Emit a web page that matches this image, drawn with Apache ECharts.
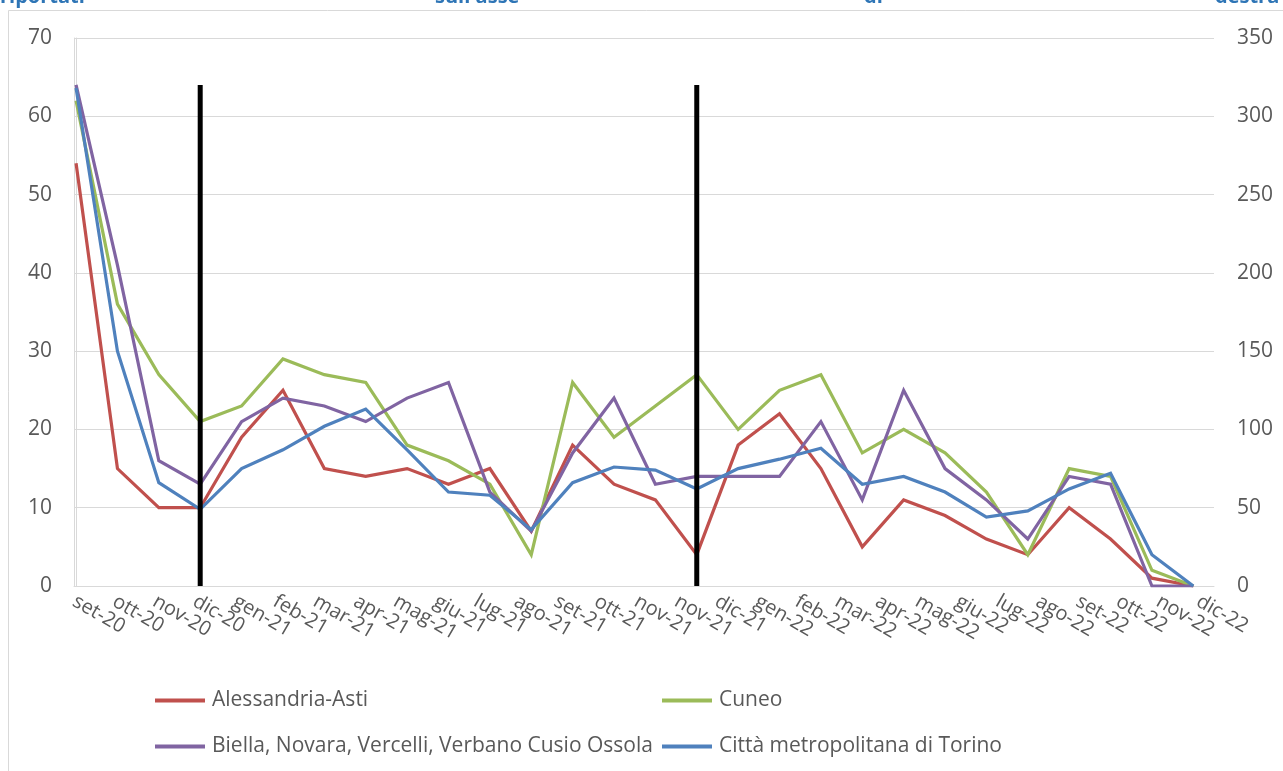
<!DOCTYPE html>
<html lang="it">
<head>
<meta charset="utf-8">
<title>Andamento per territorio</title>
<script src="https://cdn.jsdelivr.net/npm/echarts@6.0.0/dist/echarts.min.js"></script>
<style>
  html, body { margin: 0; padding: 0; background: #ffffff; }
  #chart { width: 1283px; height: 771px; }
</style>
</head>
<body>
<div id="chart"></div>
<script>
// Mesi dei dati (un punto per mese)
const mesi = ['set-20', 'ott-20', 'nov-20', 'dic-20', 'gen-21', 'feb-21', 'mar-21', 'apr-21',
  'mag-21', 'giu-21', 'lug-21', 'ago-21', 'set-21', 'ott-21', 'nov-21', 'dic-21', 'gen-22',
  'feb-22', 'mar-22', 'apr-22', 'mag-22', 'giu-22', 'lug-22', 'ago-22', 'set-22', 'ott-22',
  'nov-22', 'dic-22'];

// Etichette dell'asse orizzontale
const etichette = ['set-20', 'ott-20', 'nov-20', 'dic-20', 'gen-21', 'feb-21', 'mar-21', 'apr-21',
  'mag-21', 'giu-21', 'lug-21', 'ago-21', 'set-21', 'ott-21', 'nov-21', 'nov-21', 'dic-21',
  'gen-22', 'feb-22', 'mar-22', 'apr-22', 'mag-22', 'giu-22', 'lug-22', 'ago-22', 'set-22',
  'ott-22', 'nov-22', 'dic-22'];

// Serie sull'asse di sinistra
const alessandriaAsti = [54, 15, 10, 10, 19, 25, 15, 14, 15, 13, 15, 7, 18, 13, 11, 4, 18, 22, 15, 5, 11, 9, 6, 4, 10, 6, 1, 0];
const cuneo = [62, 36, 27, 21, 23, 29, 27, 26, 18, 16, 13, 4, 26, 19, 23, 27, 20, 25, 27, 17, 20, 17, 12, 4, 15, 14, 2, 0];
const biellaNovaraVercelliVco = [64, 41, 16, 13, 21, 24, 23, 21, 24, 26, 12, 7, 17, 24, 13, 14, 14, 14, 21, 11, 25, 15, 11, 6, 14, 13, 0, 0];

// Serie sull'asse di destra
const torino = [318, 150, 66, 49, 75, 87, 102, 113, 87, 60, 58, 36, 66, 76, 74, 62, 75, 81, 88, 65, 70, 60, 44, 48, 62, 72, 20, 0];

// Tacche degli assi verticali
const tickSinistra = [0, 10, 20, 30, 40, 50, 60, 70];
const tickDestra = [0, 50, 100, 150, 200, 250, 300, 350];

// Mesi di cesura segnati con una barra nera
const cesure = ['dic-20', 'dic-21'];
const altezzaCesura = 64;

const nomi = {
  aa: 'Alessandria-Asti',
  cn: 'Cuneo',
  bn: 'Biella, Novara, Vercelli, Verbano Cusio Ossola',
  to: 'Città metropolitana di Torino'
};

const FONT = '"Open Sans", "DejaVu Sans", sans-serif';
const GRIGIO = '#d9d9d9';
const TESTO = '#595959';
const BLU_TITOLO = '#2e75b6';

const punti = arr => arr.map((v, i) => [i, v]);

function serieLinea(nome, valori, colore, asseY) {
  return {
    name: nome,
    type: 'line',
    xAxisIndex: 0,
    yAxisIndex: asseY,
    data: punti(valori),
    showSymbol: false,
    symbol: 'none',
    color: colore,
    lineStyle: { width: 3.2, color: colore, join: 'miter' },
    emphasis: { disabled: true },
    z: 3
  };
}

const serieCesure = cesure.map(m => {
  const i = mesi.indexOf(m);
  return {
    name: 'cesura ' + m,
    type: 'line',
    xAxisIndex: 0,
    yAxisIndex: 0,
    data: [[i, 0], [i, altezzaCesura]],
    showSymbol: false,
    symbol: 'none',
    lineStyle: { width: 5, color: '#000000', cap: 'butt' },
    emphasis: { disabled: true },
    z: 4
  };
});

const chart = echarts.init(document.getElementById('chart'), null, { renderer: 'canvas' });

const legendaBase = {
  orient: 'vertical',
  top: 690,
  padding: 0,
  icon: 'rect',
  itemWidth: 50,
  itemHeight: 4,
  itemGap: 25,
  selectedMode: false,
  textStyle: { fontFamily: FONT, fontSize: 21, color: TESTO, lineHeight: 20, padding: [0, 0, 0, 2] }
};

chart.setOption({
  animation: false,
  backgroundColor: '#ffffff',
  textStyle: { fontFamily: FONT },
  grid: {
    left: 74, right: 69, top: 38, bottom: 185,
    containLabel: false,
    outerBoundsMode: 'none'
  },
  legend: [
    Object.assign({}, legendaBase, { left: 155, data: [nomi.aa, nomi.bn] }),
    Object.assign({}, legendaBase, { left: 662, data: [nomi.cn, nomi.to] })
  ],
  xAxis: [
    {
      type: 'value',
      min: -0.05,
      max: 27.5,
      position: 'bottom',
      axisLine: { show: true, onZero: false, lineStyle: { color: GRIGIO, width: 1 } },
      axisTick: { show: false },
      axisLabel: { show: false },
      splitLine: { show: false }
    },
    {
      type: 'value',
      min: 0,
      max: 28.4,
      position: 'bottom',
      axisLine: { show: false },
      axisTick: { show: false },
      splitLine: { show: false },
      axisLabel: {
        show: true,
        customValues: etichette.map((_, i) => i),
        formatter: v => etichette[v] ?? '',
        rotate: -30,
        margin: 14,
        color: TESTO,
        fontFamily: FONT,
        fontSize: 20,
        showMinLabel: true,
        showMaxLabel: true,
        hideOverlap: false
      }
    }
  ],
  yAxis: [
    {
      type: 'value',
      position: 'left',
      min: tickSinistra[0],
      max: tickSinistra[tickSinistra.length - 1],
      interval: tickSinistra[1] - tickSinistra[0],
      axisLine: { show: true, lineStyle: { color: GRIGIO, width: 1 } },
      axisTick: { show: false },
      splitLine: { show: true, lineStyle: { color: GRIGIO, width: 1 } },
      axisLabel: { margin: 22, color: TESTO, fontFamily: FONT, fontSize: 21 }
    },
    {
      type: 'value',
      position: 'right',
      min: tickDestra[0],
      max: tickDestra[tickDestra.length - 1],
      interval: tickDestra[1] - tickDestra[0],
      axisLine: { show: true, lineStyle: { color: GRIGIO, width: 1 } },
      axisTick: { show: true, length: 7, inside: false, lineStyle: { color: GRIGIO, width: 1 } },
      splitLine: { show: false },
      axisLabel: { margin: 23, color: TESTO, fontFamily: FONT, fontSize: 21 }
    }
  ],
  graphic: [
    {
      type: 'rect',
      silent: true,
      shape: { x: 8.5, y: 10.5, width: 1400, height: 900 },
      style: { fill: 'none', stroke: GRIGIO, lineWidth: 1 },
      z: -1
    },
    { type: 'text', left: 0, top: -13, silent: true,
      style: { text: 'riportati', fill: BLU_TITOLO, font: 'bold 20px ' + FONT } },
    { type: 'text', left: 435, top: -13, silent: true,
      style: { text: "sull'asse", fill: BLU_TITOLO, font: 'bold 20px ' + FONT } },
    { type: 'text', left: 864, top: -13, silent: true,
      style: { text: 'di', fill: BLU_TITOLO, font: 'bold 20px ' + FONT } },
    { type: 'text', left: 1215, top: -13, silent: true,
      style: { text: 'destra', fill: BLU_TITOLO, font: 'bold 20px ' + FONT } }
  ],
  series: [
    serieLinea(nomi.aa, alessandriaAsti, '#c0504d', 0),
    serieLinea(nomi.cn, cuneo, '#9bbb59', 0),
    serieLinea(nomi.bn, biellaNovaraVercelliVco, '#8064a2', 0),
    serieLinea(nomi.to, torino, '#4f81bd', 1)
  ].concat(serieCesure)
});
</script>
</body>
</html>
